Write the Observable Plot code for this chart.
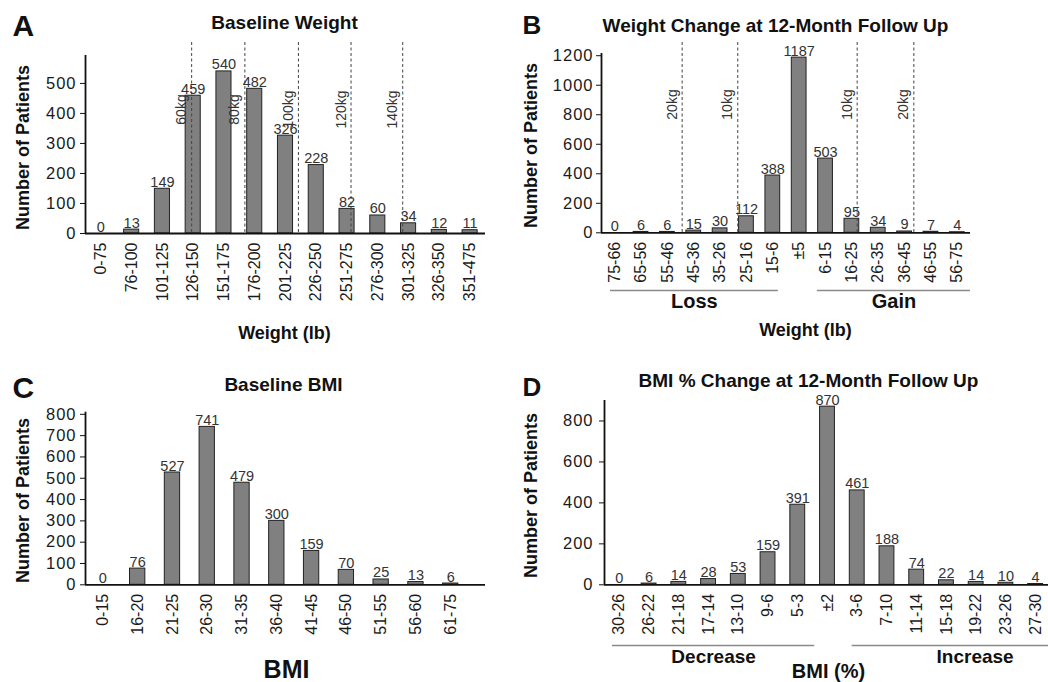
<!DOCTYPE html>
<html><head><meta charset="utf-8">
<script src="https://cdn.jsdelivr.net/npm/d3@7"></script>
<script src="https://cdn.jsdelivr.net/npm/@observablehq/plot@0.6"></script>
<style>
html,body{margin:0;padding:0;background:#fff;overflow:hidden}
#root{position:relative;width:1048px;height:682px;overflow:hidden;background:#fff}
#root > svg{position:absolute}
</style></head><body><div id="root"></div>
<script>
// ---------- Panel A: Baseline Weight ----------
const weightBins = ["0-75","76-100","101-125","126-150","151-175","176-200","201-225","226-250","251-275","276-300","301-325","326-350","351-475"];
const weightCounts = [0,13,149,459,540,482,326,228,82,60,34,12,11];
const weightKgLabels = ["60kg","80kg","100kg","120kg","140kg"];
const weightKgAt = [2.95,4.68,6.42,8.13,9.81]; // position along the bin axis
const weightTicks = [0,100,200,300,400,500];

// ---------- Panel B: Weight change ----------
const changeBins = ["75-66","65-56","55-46","45-36","35-26","25-16","15-6","±5","6-15","16-25","26-35","36-45","46-55","56-75"];
const changeCounts = [0,6,6,15,30,112,388,1187,503,95,34,9,7,4];
const changeKgLabels = ["20kg","10kg","10kg","20kg"];
const changeKgAt = [2.56,4.67,9.2,11.35];
const changeGroups = ["Loss","Gain"];
const changeGroupFrom = [-0.16,7.69];
const changeGroupTo = [6.21,13.5];
const changeTicks = [0,200,400,600,800,1000,1200];

// ---------- Panel C: Baseline BMI ----------
const bmiBins = ["0-15","16-20","21-25","26-30","31-35","36-40","41-45","46-50","51-55","56-60","61-75"];
const bmiCounts = [0,76,527,741,479,300,159,70,25,13,6];
const bmiTicks = [0,100,200,300,400,500,600,700,800];

// ---------- Panel D: BMI % change ----------
const bmiChangeBins = ["30-26","26-22","21-18","17-14","13-10","9-6","5-3","±2","3-6","7-10","11-14","15-18","19-22","23-26","27-30"];
const bmiChangeCounts = [0,6,14,28,53,159,391,870,461,188,74,22,14,10,4];
const bmiChangeGroups = ["Decrease","Increase"];
const bmiChangeGroupFrom = [-0.23,7.83];
const bmiChangeGroupTo = [6.57,16.1];
const bmiChangeTicks = [0,200,400,600,800];

const FONT = "'Liberation Sans', Arial, Helvetica, sans-serif";
const root = document.getElementById("root");

function panel(o) {
  const data = o.cats.map((c, i) => ({i, c, v: o.vals[i]}));
  const lines = (o.lineLabels || []).map((label, k) => ({label, at: o.lineAt[k]}));
  const groups = (o.groups || []).map((label, k) => ({label, from: o.groupFrom[k], to: o.groupTo[k]}));
  const ann = (txt, px, py, extra = {}) => Plot.text([txt], {
    frameAnchor: "top-left", dx: px - o.ml, dy: py - o.mt, text: d => d,
    fill: "#111", fontWeight: "bold", lineAnchor: "bottom", textAnchor: "middle", ...extra
  });
  const marks = [
    Plot.rectY(data, {x1: d => d.i - o.hw, x2: d => d.i + o.hw, y: "v", fill: "#808080", stroke: "#222", strokeWidth: 1}),
    Plot.ruleX(lines, {x: "at", stroke: "#444", strokeWidth: 1, strokeDasharray: "3,2.5", insetTop: o.lineInset}),
    Plot.text(lines, {x: "at", frameAnchor: "top", dy: o.lineLabelDy, dx: -10, text: "label", rotate: -90, fontSize: 14, fill: "#333", textAnchor: "middle", lineAnchor: "middle"}),
    Plot.text(data, {x: "i", y: "v", text: d => String(d.v), dy: -2, lineAnchor: "bottom", fontSize: 14.5, fill: "#333"}),
    Plot.text(data, {x: "i", y: () => 0, text: "c", rotate: -90, textAnchor: "end", lineAnchor: "middle", dy: 9, fontSize: 16, fill: "#1a1a1a"}),
    Plot.axisY({ticks: o.yTicks, tickSize: 5, tickPadding: o.tickPad, fontSize: 16.5, label: null, stroke: "#111", fill: "#1a1a1a", tickFormat: d => String(d)}),
    Plot.ruleX([-0.5], {stroke: "#111", strokeWidth: 1.8}),
    Plot.ruleY([0], {stroke: "#111", strokeWidth: 1.8}),
    Plot.ruleY(groups, {y: () => 0, x1: "from", x2: "to", dy: o.groupLineDy, stroke: "#8a8a8a", strokeWidth: 1.5}),
    Plot.text(groups, {x: d => (d.from + d.to) / 2, y: () => 0, text: "label", dy: o.groupTextDy, lineAnchor: "bottom", fontWeight: "bold", fontSize: o.groupFont, fill: "#111"}),
    ann(o.letter, o.letterPos[0], o.letterPos[1], {textAnchor: "start", fontSize: o.letterSize}),
    ann(o.title, o.titlePos[0], o.titlePos[1], {fontSize: 19, ariaLabel: "panel title"}),
    ann("Number of Patients", o.yLabelPos[0], o.yLabelPos[1], {rotate: -90, lineAnchor: "middle", fontSize: 18, ariaLabel: "panel ylabel"}),
    ann(o.xLabel, o.xLabelPos[0], o.xLabelPos[1], {fontSize: o.xLabelSize})
  ];
  const svg = Plot.plot({
    width: o.width, height: o.height,
    marginLeft: o.ml, marginRight: o.mr, marginTop: o.mt, marginBottom: o.mb,
    x: {domain: [-0.5, o.xMax], axis: null},
    y: {domain: [0, o.yMax], label: null},
    style: {fontFamily: FONT, fontSize: "14px", color: "#111", background: "transparent", overflow: "visible"},
    marks
  });
  svg.style.left = o.left + "px";
  svg.style.top = o.top + "px";
  d3.select(svg).selectAll("g[aria-label='y-axis tick label'] text").attr("letter-spacing", "1px");
  d3.select(svg).selectAll("g[aria-label='panel title'] text").attr("letter-spacing", "0.5px");
  d3.select(svg).selectAll("g[aria-label='panel ylabel'] text").attr("letter-spacing", "0.3px");
  root.appendChild(svg);
}

panel({
  left: 0, top: 0, width: 520, height: 345, ml: 85, mr: 35, mt: 55, mb: 112,
  xMax: 12.5, yMax: 593, yTicks: weightTicks, tickPad: 4,
  cats: weightBins, vals: weightCounts, hw: 0.245,
  lineLabels: weightKgLabels, lineAt: weightKgAt, lineInset: -13, lineLabelDy: 54,
  letter: "A", letterPos: [12, 35], letterSize: 30,
  title: "Baseline Weight", titlePos: [284, 28],
  yLabelPos: [23, 147], xLabel: "Weight (lb)", xLabelPos: [284, 338], xLabelSize: 18
});

panel({
  left: 520, top: 0, width: 528, height: 345, ml: 81, mr: 78, mt: 53, mb: 112.7,
  xMax: 13.5, yMax: 1215, yTicks: changeTicks, tickPad: 3,
  cats: changeBins, vals: changeCounts, hw: 0.28,
  lineLabels: changeKgLabels, lineAt: changeKgAt, lineInset: -11, lineLabelDy: 51,
  groups: changeGroups, groupFrom: changeGroupFrom, groupTo: changeGroupTo, groupLineDy: 57.7, groupTextDy: 75.6, groupFont: 20,
  letter: "B", letterPos: [2, 33], letterSize: 26,
  title: "Weight Change at 12-Month Follow Up", titlePos: [255, 31],
  yLabelPos: [10.5, 145], xLabel: "Weight (lb)", xLabelPos: [285, 335], xLabelSize: 18
});

panel({
  left: 0, top: 345, width: 520, height: 337, ml: 85, mr: 35, mt: 66.7, mb: 97.7,
  xMax: 11, yMax: 810, yTicks: bmiTicks, tickPad: 4,
  cats: bmiBins, vals: bmiCounts, hw: 0.22,
  letter: "C", letterPos: [12, 52], letterSize: 30,
  title: "Baseline BMI", titlePos: [283, 45.7],
  yLabelPos: [23, 155], xLabel: "BMI", xLabelPos: [286, 332], xLabelSize: 25
});

panel({
  left: 520, top: 345, width: 530, height: 337, ml: 84, mr: 0, mt: 55, mb: 97.7,
  xMax: 14.5, yMax: 900, yTicks: bmiChangeTicks, tickPad: 6,
  cats: bmiChangeBins, vals: bmiChangeCounts, hw: 0.25,
  groups: bmiChangeGroups, groupFrom: bmiChangeGroupFrom, groupTo: bmiChangeGroupTo, groupLineDy: 60.7, groupTextDy: 77.7, groupFont: 19,
  letter: "D", letterPos: [2, 50], letterSize: 26,
  title: "BMI % Change at 12-Month Follow Up", titlePos: [288, 41],
  yLabelPos: [10.5, 150], xLabel: "BMI (%)", xLabelPos: [308, 332], xLabelSize: 20
});
</script></body></html>
